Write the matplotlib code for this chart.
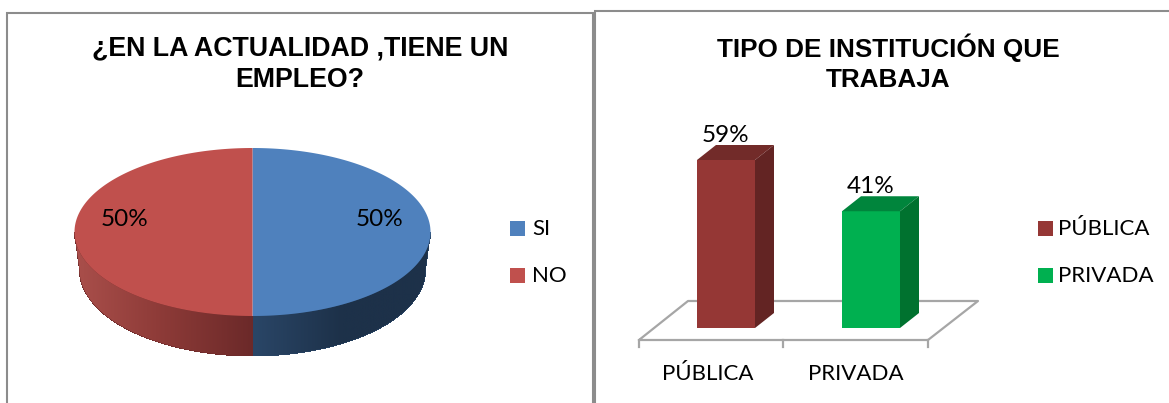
import numpy as np
import matplotlib
matplotlib.use("Agg")
import matplotlib.pyplot as plt
from matplotlib.patches import Polygon, Rectangle
from matplotlib.colors import LinearSegmentedColormap

# -----------------------------
# Data
# -----------------------------
pie_title = "¿EN LA ACTUALIDAD ,TIENE UN\nEMPLEO?"
pie_labels = ["SI", "NO"]
pie_values = [50, 50]

bar_title = "TIPO DE INSTITUCIÓN QUE\nTRABAJA"
bar_labels = ["PÚBLICA", "PRIVADA"]
bar_values = [59, 41]

# -----------------------------
# Styles
# -----------------------------
W, H = 1169, 403
FRAME = "#8c8c8c"
LABEL_FONT = ["Lato", "DejaVu Sans"]
TITLE_FONT = ["Liberation Sans", "DejaVu Sans"]
pie_top = ["#4f81bd", "#c0504d"]
pie_side = [["#2a4667", "#1d3149", "#1d3149"], ["#6b2929", "#8c3a37", "#aa4f4b"]]
bar_front = ["#953735", "#00b050"]
bar_roof = ["#722b29", "#00853c"]
bar_side = ["#632423", "#00722f"]

fig = plt.figure(figsize=(W / 100, H / 100), dpi=100)
page = fig.add_axes([0, 0, 1, 1])
page.set_xlim(0, W)
page.set_ylim(H, 0)
page.axis("off")


def px_axes(left, top, right, bottom):
    return fig.add_axes([left / W, 1 - bottom / H, (right - left) / W, (bottom - top) / H])


# -----------------------------
# Frames and titles
# -----------------------------
page.plot([6.5, 6.5, 593, 593], [403, 13, 13, 403], color=FRAME, lw=1.5, solid_joinstyle="miter")
page.plot([595, 595, 1169], [403, 11, 11], color=FRAME, lw=1.5, solid_joinstyle="miter")
page.text(300, 64, pie_title, ha="center", va="center", fontsize=19.3, weight="bold",
          family=TITLE_FONT, color="black", linespacing=1.26)
page.text(888, 63, bar_title, ha="center", va="center", fontsize=18.8, weight="bold",
          family=TITLE_FONT, color="black", linespacing=1.3)

# -----------------------------
# 3D pie
# -----------------------------
pie_ax = px_axes(60, 140, 445, 365)
pie_ax.set_xlim(60, 445)
pie_ax.set_ylim(365, 140)
pie_ax.axis("off")
cx, cy, rx, ry = 252.5, 232, 178, 84
low_cy, low_rx, low_ry = 270, 173, 86

# slices run clockwise from 12 o'clock, as the source chart does
fractions = np.array(pie_values) / sum(pie_values)
edges = np.concatenate([[0], np.cumsum(fractions)]) * 2 * np.pi

for i in range(len(pie_values)):
    a0, a1 = edges[i], edges[i + 1]
    # wall, only the part facing the viewer
    lo, hi = max(a0, np.pi / 2), min(a1, 3 * np.pi / 2)
    if hi > lo:
        t = np.linspace(lo, hi, 80)
        x_up, y_up = cx + rx * np.sin(t), cy - ry * np.cos(t)
        x_dn, y_dn = cx + low_rx * np.sin(t), low_cy - low_ry * np.cos(t)
        wall = Polygon(np.column_stack([np.r_[x_up, x_dn[::-1]], np.r_[y_up, y_dn[::-1]]]),
                       facecolor=pie_side[i][0], edgecolor="none", antialiased=False, zorder=1)
        pie_ax.add_patch(wall)
        cmap = LinearSegmentedColormap.from_list("wall", pie_side[i])
        ramp = np.linspace(0, 1, 256) if i == 0 else np.linspace(1, 0, 256)
        img = pie_ax.imshow(ramp[None, :], cmap=cmap, aspect="auto",
                            extent=[x_up.min(), x_up.max(), low_cy + low_ry + 1, cy - 1], zorder=2)
        img.set_clip_path(wall)
    # top face
    t = np.linspace(a0, a1, 160)
    pie_ax.add_patch(Polygon(np.column_stack([np.r_[cx, cx + rx * np.sin(t)], np.r_[cy, cy - ry * np.cos(t)]]),
                             facecolor=pie_top[i], edgecolor="none", zorder=3))
    # percent label
    mid = (a0 + a1) / 2
    pie_ax.text(cx + 127.5 * np.sin(mid), 219.5, f"{pie_values[i]}%", ha="center", va="center",
                fontsize=17.5, family=LABEL_FONT, color="black", zorder=4)
pie_ax.set_xlim(60, 445)
pie_ax.set_ylim(365, 140)

for i, label in enumerate(pie_labels):
    y = 228 + 47 * i
    page.add_patch(Rectangle((510, y - 7.5), 15, 15, facecolor=pie_top[i], edgecolor="none"))
    page.text(532, y + 1, label, ha="left", va="center", fontsize=16, family=LABEL_FONT, color="black")

# -----------------------------
# 3D bars
# -----------------------------
bar_ax = px_axes(639, 120, 928, 328)
x_pos = np.arange(len(bar_values))
px_x = 145.0
px_y = 168 / bar_values[0]
bar_ax.set_xlim((639 - 726) / px_x, (928 - 726) / px_x)
bar_ax.set_ylim(0, 208 / px_y)
bar_ax.axis("off")
width = 58 / px_x
dx, dy = 19 / px_x, 15 / px_y

# floor goes on the page, behind the bars
page.plot([639, 688, 978, 928, 639, 639], [340, 301, 301, 340, 340, 347], color="#a6a6a6", lw=1.6)
page.plot([783, 783], [340, 347], color="#a6a6a6", lw=1.6)
page.plot([928, 928], [340, 347], color="#a6a6a6", lw=1.6)

for x, v, front, roof, side in zip(x_pos, bar_values, bar_front, bar_roof, bar_side):
    l, r = x - width / 2, x + width / 2
    bar_ax.bar(x, v, width, color=front, linewidth=0, zorder=3)
    bar_ax.add_patch(Polygon([(l, v), (l + dx, v + dy), (r + dx, v + dy), (r, v)],
                             facecolor=roof, edgecolor="none", clip_on=False, zorder=3))
    bar_ax.add_patch(Polygon([(r, 0), (r + dx, dy), (r + dx, v + dy), (r, v)],
                             facecolor=side, edgecolor="none", clip_on=False, zorder=3))
    bar_ax.text(x - 0.005, v + dy + 3.3, f"{v}%", ha="center", va="center", fontsize=17.5,
                family=LABEL_FONT, color="black", zorder=4)

for i, label in enumerate(bar_labels):
    page.text(708 + 148 * i, 374, label, ha="center", va="center", fontsize=16,
              family=LABEL_FONT, color="black")
    y = 228 + 47 * i
    page.add_patch(Rectangle((1038, y - 7.5), 15, 15, facecolor=bar_front[i], edgecolor="none"))
    page.text(1058, y + 1, label, ha="left", va="center", fontsize=16, family=LABEL_FONT, color="black")

fig.savefig("out.png", dpi=100)
